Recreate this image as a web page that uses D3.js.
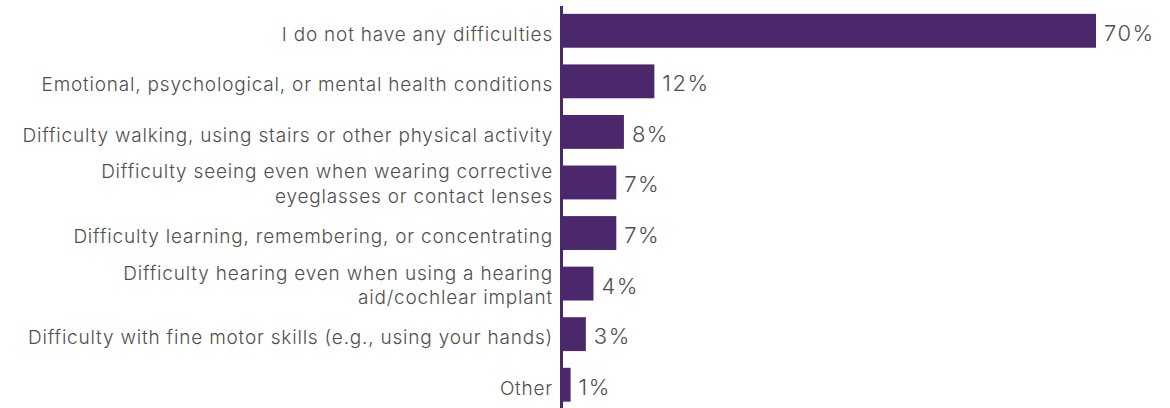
<!DOCTYPE html>
<html>
<head>
<meta charset="utf-8">
<script src="https://cdn.jsdelivr.net/npm/d3@7/dist/d3.min.js"></script>
<style>
  html, body { margin: 0; padding: 0; background: #fff; }
  svg { display: block; }
  .cat { font-family: Inter, "Liberation Sans", sans-serif; font-weight: 300; font-size: 19px; fill: #4f4f4f; letter-spacing: 0.8px; }
  .val { font-family: Inter, "Liberation Sans", sans-serif; font-weight: 300; font-size: 22px; fill: #4f4f4f; letter-spacing: 1.5px; }
</style>
</head>
<body>
<svg id="chart" width="1170" height="408"></svg>
<script>
// Survey responses: share of respondents reporting each difficulty
const categories = [
  ["I do not have any difficulties"],
  ["Emotional, psychological, or mental health conditions"],
  ["Difficulty walking, using stairs or other physical activity"],
  ["Difficulty seeing even when wearing corrective", "eyeglasses or contact lenses"],
  ["Difficulty learning, remembering, or concentrating"],
  ["Difficulty hearing even when using a hearing", "aid/cochlear implant"],
  ["Difficulty with fine motor skills (e.g., using your hands)"],
  ["Other"]
];
const values = [70, 12, 8, 7, 7, 4, 3, 1];
const valueLabels = ["70%", "12%", "8%", "7%", "7%", "4%", "3%", "1%"];

const svg = d3.select("#chart");
const x0 = 563;
const purple = "#4b286b";

const x = d3.scaleLinear().domain([0, 70]).range([x0, 1096]);
const y = d3.scaleBand()
  .domain(d3.range(categories.length))
  .range([5.5, 410])
  .paddingInner(0.33)
  .paddingOuter(0.165);
const mid = i => y(i) + y.bandwidth() / 2;

// bars
svg.append("g").selectAll("rect")
  .data(values)
  .join("rect")
  .attr("x", x(0))
  .attr("y", (d, i) => y(i))
  .attr("width", d => x(d) - x(0))
  .attr("height", y.bandwidth())
  .attr("fill", purple);

// vertical baseline
svg.append("line")
  .attr("x1", x0 - 1.5).attr("x2", x0 - 1.5)
  .attr("y1", 6).attr("y2", 408)
  .attr("stroke", purple)
  .attr("stroke-width", 3);

// category labels (right aligned, may wrap to two lines)
const lineH = 24.5;
const labelX = 553;
const cat = svg.append("g").selectAll("text")
  .data(categories)
  .join("text")
  .attr("class", "cat")
  .attr("text-anchor", "end")
  .attr("x", labelX)
  .attr("y", (d, i) => d.length > 1 ? mid(i) - 4 : mid(i) + 10);
cat.selectAll("tspan")
  .data(d => d)
  .join("tspan")
  .attr("x", labelX)
  .attr("dy", (d, j) => j === 0 ? 0 : lineH)
  .text(d => d);

// value labels
svg.append("g").selectAll("text")
  .data(values)
  .join("text")
  .attr("class", "val")
  .attr("x", d => x(d) + 8)
  .attr("y", (d, i) => mid(i) + 10)
  .text((d, i) => valueLabels[i]);
</script>
</body>
</html>
